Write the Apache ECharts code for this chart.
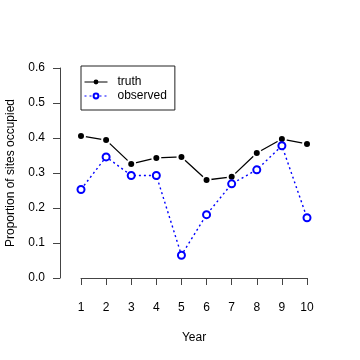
<!DOCTYPE html>
<html>
<head>
<meta charset="utf-8">
<script src="https://cdn.jsdelivr.net/npm/echarts@6/dist/echarts.min.js"></script>
<style>html,body{margin:0;padding:0;background:#fff}#c{width:360px;height:360px}</style>
</head>
<body>
<div id="c"></div>
<script>
var years = [1, 2, 3, 4, 5, 6, 7, 8, 9, 10];
var truth = [0.406, 0.394, 0.326, 0.343, 0.346, 0.280, 0.289, 0.357, 0.397, 0.383];
var observed = [0.253, 0.346, 0.293, 0.293, 0.065, 0.181, 0.269, 0.309, 0.378, 0.172];
var yTicks = [0.0, 0.1, 0.2, 0.3, 0.4, 0.5, 0.6];

function pairs(xs, ys) { return xs.map(function (x, i) { return [x, ys[i]]; }); }

var font = 'Liberation Sans, Arial, Helvetica, sans-serif';
var chart = echarts.init(document.getElementById('c'), null, { renderer: 'canvas' });
chart.setOption({
  backgroundColor: '#fff',
  animation: false,
  textStyle: { fontFamily: font },
  grid: { left: 81, right: 53, top: 68, bottom: 82, containLabel: false, outerBoundsMode: 'none' },
  xAxis: {
    type: 'value', min: 1, max: 10, interval: 1, offset: 9,
    name: 'Year', nameLocation: 'middle', nameGap: 45,
    nameTextStyle: { color: '#000', fontSize: 12, fontFamily: font },
    axisLine: { show: true, lineStyle: { color: '#444', width: 1 } },
    axisTick: { show: true, length: 7, lineStyle: { color: '#444' } },
    axisLabel: { color: '#000', fontSize: 12, margin: 15, fontFamily: font },
    splitLine: { show: false }
  },
  yAxis: {
    type: 'value', min: 0, max: 0.6, interval: 0.1, offset: 21,
    name: 'Proportion of sites occupied', nameLocation: 'middle', nameGap: 43,
    nameTextStyle: { color: '#000', fontSize: 12, fontFamily: font },
    axisLine: { show: true, lineStyle: { color: '#444', width: 1 } },
    axisTick: { show: true, length: 7, lineStyle: { color: '#444' } },
    axisLabel: { color: '#000', fontSize: 12, margin: 15, fontFamily: font,
      formatter: function (v) { return v.toFixed(1); } },
    splitLine: { show: false }
  },
  legend: {
    left: 81, top: 66, orient: 'vertical',
    data: [{ name: 'truth', itemStyle: { borderWidth: 0 } }, 'observed'],
    borderColor: '#222', borderWidth: 1,
    padding: [10, 8, 8, 3], itemGap: 2,
    itemWidth: 23, itemHeight: 6,
    lineStyle: { width: 1 },
    textStyle: { color: '#000', fontSize: 12, fontFamily: font, padding: [0, 0, 0, 5] }
  },
  series: [
    {
      name: 'truth', type: 'line', data: pairs(years, truth), clip: false,
      symbol: 'circle', symbolSize: 8,
      itemStyle: { color: '#000', borderColor: '#fff', borderWidth: 2 },
      lineStyle: { color: '#000', width: 1.3 }
    },
    {
      name: 'observed', type: 'line', data: pairs(years, observed), clip: false,
      symbol: 'emptyCircle', symbolSize: 7,
      itemStyle: { color: '#00f', borderColor: '#00f', borderWidth: 1.3 },
      lineStyle: { color: '#00f', width: 1.4, type: [2, 3] }
    }
  ]
});
</script>
</body>
</html>
